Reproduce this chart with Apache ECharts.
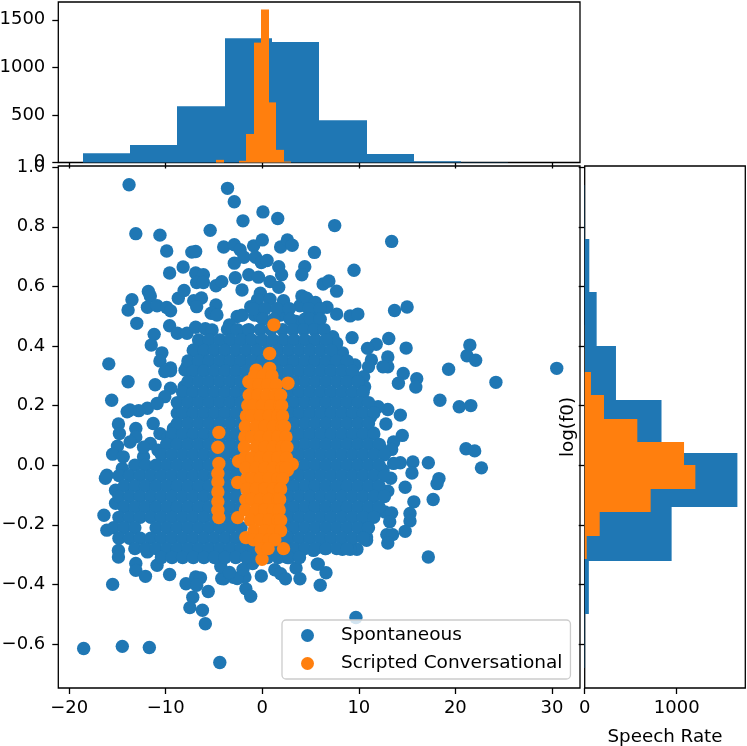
<!DOCTYPE html>
<html>
<head>
<meta charset="utf-8">
<style>
html, body { margin: 0; padding: 0; background: #fff; }
#chart { width: 747px; height: 746px; }
</style>
<script src="https://cdn.jsdelivr.net/npm/echarts@6/dist/echarts.min.js"></script>
</head>
<body>
<div id="chart"></div>
<script>
var xTicks = [-20, -10, 0, 10, 20, 30];
var yTicks = [-0.6, -0.4, -0.2, 0, 0.2, 0.4, 0.6, 0.8, 1.0];
var topCountTicks = [0, 500, 1000, 1500];
var rightCountTicks = [0, 1000];

// histograms
var rateEdgesSpont = [-18.6, -13.7, -8.8, -3.9, 1, 5.9, 10.8, 15.7, 20.6, 25.5, 30.4];
var rateCountsSpont = [97, 184, 590, 1305, 1266, 445, 90, 13, 2, 1];
var rateEdgesScript = [-4.78, -4, -3.22, -2.44, -1.66, -0.88, -0.1, 0.68, 1.46, 2.24, 3.02];
var rateCountsScript = [28, 0, 0, 18, 300, 1260, 1607, 632, 133, 10];
var f0EdgesSpont = [-0.68, -0.5, -0.32, -0.14, 0.04, 0.22, 0.4, 0.58, 0.76, 0.94];
var f0CountsSpont = [4, 45, 945, 1660, 835, 340, 130, 50, 3];
var f0EdgesScript = [-0.315, -0.237, -0.157, -0.079, 0, 0.078, 0.156, 0.234, 0.3125, 0.39, 0.47];
var f0CountsScript = [22, 163, 717, 1203, 1080, 572, 210, 68, 2, 1];

// separate points around the edge of the cloud
var spontOuter = [
  [-13.8,.941],[-3.6,.929],[-2.9,.884],[0.07,.85],[1.6,.828],[-2,.82],[-13.1,.777],[-10.6,.772],[-5.4,.788],[-9.9,.719],
  [-7.3,.715],[-6.9,.717],[-4,.732],[-2.9,.74],[-2.3,.723],[-1.9,.698],[-2.9,.678],[-.9,.736],[0,.756],[-.7,.698],
  [-.1,.68],[.5,.687],[1.9,.732],[2.6,.756],[3.1,.738],[5.4,.714],[7.5,.804],[1.7,.666],[2,.639],[4.4,.666],
  [4.1,.639],[-8.2,.665],[-9.6,.645],[-6.9,.645],[-6.1,.639],[-6.8,.613],[-6.1,.613],[-4.8,.602],[-4.2,.616],[-2.8,.629],
  [-1.4,.639],[-.4,.631],[.8,.616],[-2.1,.588],[1.7,.597],[6.3,.608],[6.9,.618],[7.7,.584],[-11.8,.583],[-11.6,.568],
  [-13.5,.555],[-13.9,.521],[-11.9,.53],[-10.9,.535],[-9.9,.529],[-9.5,.518],[-8.7,.56],[-8.1,.586],[-7.1,.552],[-6.3,.561],
  [-6.8,.532],[-4.8,.538],[-5.3,.51],[-4.7,.504],[-2.6,.499],[-2.1,.503],[-.2,.577],[-.5,.555],[-1.2,.532],[-.8,.504],
  [.8,.557],[2.2,.552],[3.9,.535],[4.1,.568],[4.6,.56],[5.5,.546],[5.7,.51],[6.7,.53],[7.7,.507],[-13,.476],
  [-9.6,.468],[-11.2,.439],[-8.8,.443],[-7.8,.443],[-6.9,.463],[-5.9,.458],[-5.2,.454],[-3.4,.471],[-1.6,.451],[-.2,.499],
  [1.9,.504],[3.5,.482],[5.3,.471],[7.3,.431],[-11.5,.403],[-10.4,.377],[-10.6,.35],[-15.9,.34],[-9.5,.326],[-6.4,.387],
  [-7.8,.33],[-6.4,.347],[13.4,.751],[9.5,.654],[9.1,.501],[9.9,.507],[13.7,.519],[15,.531],[9.3,.428],[13.1,.425],
  [11.8,.406],[10.9,.392],[14.9,.393],[21.5,.403],[21.2,.367],[22.1,.352],[13,.363],[13,.33],[12.5,.33],[11.3,.353],
  [11,.33],[19.3,.322],[30.5,.325],[14.6,.308],[14.1,.275],[16,.29],[15.9,.262],[24.2,.278],[18.4,.218],[20.4,.196],
  [21.6,.2],[14.3,.168],[13,.187],[12,.196],[9.6,.336],[9.1,.303],[10.5,.297],[10.6,.263],[7.2,.353],[8.3,.377],
  [7.7,.409],[12.8,.138],[14.5,.1],[13.6,.078],[13.4,.053],[21.1,.055],[22,.048],[22.7,-.009],[17.2,.008],[15.6,.011],
  [14.3,.008],[13.6,.006],[15.5,-.026],[18.3,-.045],[18.1,-.062],[13.3,-.044],[14.8,-.074],[13,-.087],[15.7,-.123],[17.7,-.115],
  [12.7,-.157],[13.4,-.16],[15.3,-.162],[15.3,-.187],[13.2,-.19],[14.8,-.222],[12.9,-.233],[13.5,-.233],[13,-.261],[10.8,-.241],
  [17.2,-.308],[9.8,-.282],[9.1,-.282],[8.3,-.282],[6.5,-.28],[5.3,-.286],[5.7,-.332],[6.6,-.361],[11.5,.108],[12.2,.06],
  [12.5,-.017],[11.9,-.084],[11.2,-.161],[10.8,-.208],[11.2,.161],[-9.5,.317],[-10.1,.314],[-13.9,.28],[-11.1,.27],[-15.6,.218],
  [-9.5,.258],[-10.1,.23],[-11.9,.191],[-12.8,.183],[-13.7,.185],[-14,.179],[-10.9,.207],[-11.3,.14],[-14.9,.138],[-14.8,.106],
  [-13.1,.123],[-13.1,.095],[-13.7,.078],[-15,.064],[-15.5,.037],[-16.1,-.034],[-14.5,-.011],[-14.4,.028],[-12.3,.028],[-11.6,.073],
  [-10.6,.106],[-9.2,.123],[-8.8,.174],[-8,.319],[-8.1,.263],[-7.1,.387],[-6.1,.403],[-16.25,-.044],[-15.2,-.084],[-15.2,-.128],
  [-16.4,-.168],[-16.1,-.218],[-14.9,-.286],[-14.9,-.308],[-13.1,-.33],[-13.1,-.353],[-12.1,-.373],[-15.5,-.4],[-10.9,-.336],[-9.6,-.367],
  [-11.9,-.291],[-7.9,-.398],[-6.9,-.375],[-6.4,-.378],[-5.6,-.424],[-7.2,-.443],[-7.5,-.478],[-6.2,-.487],[-5.9,-.532],[-6.8,-.403],
  [-18.5,-.615],[-14.5,-.608],[-11.7,-.612],[-4.4,-.662],[9.7,-.511],[-.1,-.372],[1.3,-.351],[1.9,-.364],[2.4,-.381],[3.5,-.345],
  [3.9,-.381],[5.8,-.332],[6,-.403],[-1.7,-.415],[-1.2,-.44],[-1.8,-.375],[2.6,-.31],[3.9,-.291],[10.8,-.252],[-4,-.381],
  [-3,-.376],[-4.2,-.38],[-2.6,-.38],[-4.3,-.34],[-3.4,-.36],[-2,-.35],[-1,-.33],[-12.3,.06],[-10.8,.05],[-9.8,.09]
];

// the solid part of the cloud, one row per line: log(f0), then speech rates
var spontCoreRows = [
  [.525, -.9,.3,1.5,2.8,4.8,6],
  [.49, .1,1.2,2.9,4.4,5,6],
  [.455, -3.6,-2.6,-1.4,-.2,.9,2.1,3.2,4.3,5.4,6.4],
  [.42, -6.6,-5.5,-4.4,-3.3,-2.2,-1.1,0,1.1,2.2,3.3,4.4,5.5,6.6],
  [.385, -7.15,-6.05,-4.95,-3.85,-2.75,-1.65,-.55,.55,1.65,2.75,3.85,4.95,6.05,7.15],
  [.35, -7.7,-6.6,-5.5,-4.4,-3.3,-2.2,-1.1,0,1.1,2.2,3.3,4.4,5.5,6.6,7.7,8.8],
  [.315, -7.15,-6.05,-4.95,-3.85,-2.75,-1.65,-.55,.55,1.65,2.75,3.85,4.95,6.05,7.15,8.25,9.35],
  [.28, -7.7,-6.6,-5.5,-4.4,-3.3,-2.2,-1.1,2.2,3.3,4.4,5.5,6.6,7.7,8.8,9.9],
  [.245, -8.25,-7.15,-6.05,-4.95,-3.85,-2.75,-1.65,1.65,2.75,3.85,4.95,6.05,7.15,8.25,9.35,10.45],
  [.21, -8.8,-7.7,-6.6,-5.5,-4.4,-3.3,-2.2,2.2,3.3,4.4,5.5,6.6,7.7,8.8,9.9,11],
  [.175, -8.25,-7.15,-6.05,-4.95,-3.85,-2.75,-1.65,2.75,3.85,4.95,6.05,7.15,8.25,9.35,10.45,11.55],
  [.14, -8.8,-7.7,-6.6,-5.5,-4.4,-3.3,-2.2,2.2,3.3,4.4,5.5,6.6,7.7,8.8,9.9,11],
  [.105, -9.35,-8.25,-7.15,-6.05,-4.95,-3.85,-2.75,-1.65,2.75,3.85,4.95,6.05,7.15,8.25,9.35,10.45,11.55],
  [.07, -9.9,-8.8,-7.7,-6.6,-5.5,-4.4,-3.3,-2.2,3.3,4.4,5.5,6.6,7.7,8.8,9.9,11,12.1],
  [.035, -10.45,-9.35,-8.25,-7.15,-6.05,-4.95,-3.85,-2.75,2.75,3.85,4.95,6.05,7.15,8.25,9.35,10.45,11.55,12.65],
  [0, -13.2,-12.1,-11,-9.9,-8.8,-7.7,-6.6,-5.5,-4.4,-3.3,-2.2,3.3,4.4,5.5,6.6,7.7,8.8,9.9,11,12.1],
  [-.035, -14.85,-13.75,-12.65,-11.55,-10.45,-9.35,-8.25,-7.15,-6.05,-4.95,-3.85,-2.75,2.75,3.85,4.95,6.05,7.15,8.25,9.35,10.45,11.55,12.65],
  [-.07, -14.3,-13.2,-12.1,-11,-9.9,-8.8,-7.7,-6.6,-5.5,-4.4,-3.3,-2.2,2.2,3.3,4.4,5.5,6.6,7.7,8.8,9.9,11,12.1],
  [-.105, -14.85,-13.75,-12.65,-11.55,-10.45,-9.35,-8.25,-7.15,-6.05,-4.95,-3.85,-2.75,2.75,3.85,4.95,6.05,7.15,8.25,9.35,10.45,11.55,12.65],
  [-.14, -14.3,-13.2,-12.1,-11,-9.9,-8.8,-7.7,-6.6,-5.5,-4.4,-3.3,-2.2,2.2,3.3,4.4,5.5,6.6,7.7,8.8,9.9,11,12.1],
  [-.175, -14.85,-13.75,-12.65,-11.55,-10.45,-9.35,-8.25,-7.15,-6.05,-4.95,-3.85,-2.75,2.75,3.85,4.95,6.05,7.15,8.25,9.35,10.45,11.55],
  [-.21, -15.4,-14.3,-13.2,-11,-9.9,-8.8,-7.7,-6.6,-5.5,-4.4,-3.3,-2.2,2.2,3.3,4.4,5.5,6.6,7.7,8.8,9.9,11],
  [-.245, -14.85,-13.75,-12.65,-11.55,-10.45,-9.35,-8.25,-7.15,-6.05,-4.95,-3.85,-2.75,-1.65,1.65,2.75,3.85,4.95,6.05,7.15,8.25,9.35,10.45],
  [-.28, -13.2,-12.1,-11,-9.9,-8.8,-7.7,-6.6,-5.5,-4.4,-3.3,-2.2,-1.1,0,1.1,2.2,3.3,4.4,5.5,6.6,7.7,8.8],
  [-.31, -10.45,-9.35,-8.25,-7.15,-6.05,-4.95,-3.85,-2.75,-1.65,-.55,.55,1.65,2.75,3.85]
];

var scriptOuter = [
  [1.2,.471],[.76,.375],[-.62,.319],[.76,.325],[2.66,.275],[-1.4,.28],[-4.5,.11],[-4.6,.06],[-4.5,.006],[-4.6,-.028],
  [-4.6,-.056],[-4.6,-.09],[-4.6,-.123],[-4.6,-.151],[-4.5,-.176],[-2.45,.013],[-2.55,-.058],[-2.55,-.176],[-1.7,-.243],[2.2,-.28],
  [-.03,-.316],[3.1,.003],[2.6,-.017]
];

var scriptCoreRows = [
  [.30, -.8,.1,1],
  [.27, -1,-.35,.55,1.45],
  [.235, -1.35,-.45,.45,1.35,1.9],
  [.20, -1.5,-.9,0,.9,1.8,2],
  [.165, -1.65,-1.1,-.2,.7,1.6,2.1],
  [.13, -1.75,-.65,.25,1.15,2.05,2.3],
  [.095, -1.8,-1.1,-.2,.7,1.6,2.45],
  [.06, -1.85,-.65,.25,1.15,2.05,2.55],
  [.025, -1.8,-1.1,-.2,.7,1.6,2.5],
  [-.01, -1.7,-.65,.25,1.15,2.05,2.45],
  [-.045, -1.6,-1.1,-.2,.7,1.6,2.1],
  [-.08, -1.6,-.65,.25,1.15,1.9],
  [-.115, -1.7,-1.1,-.2,.7,1.6,1.8],
  [-.15, -1.75,-.65,.25,1.15,1.75],
  [-.185, -1.2,-.2,.7,1.6,1.9],
  [-.22, -.85,.25,1.15,1.9],
  [-.25, -.9,-.2,.7,1.3],
  [-.28, -.1,.6]
];

function pointsFrom(outer, rows) {
  var pts = outer.slice();
  rows.forEach(function (row) {
    for (var i = 1; i < row.length; i++) pts.push([row[i], row[0]]);
  });
  return pts;
}

function binRows(edges, counts) {
  return counts.map(function (c, i) { return [edges[i], edges[i + 1], c]; });
}

var BLUE = '#1f77b4', ORANGE = '#ff7f0e';
var FONT = 'DejaVu Sans';
var FS = 18;
var X_MIN = -21.13, X_MAX = 32.91, Y_MIN = -0.7477, Y_MAX = 1.004;

// bars standing on the bottom edge (top panel), edges snapped so no seams show
function upBars(api) {
  var a = api.coord([api.value(0), api.value(2)]);
  var b = api.coord([api.value(1), 0]);
  var x0 = Math.round(a[0]), x1 = Math.round(b[0]);
  return { type: 'rect', shape: { x: x0, y: a[1], width: x1 - x0, height: b[1] - a[1] }, style: { fill: api.visual('color') } };
}
// bars growing from the left edge (right panel)
function sideBars(api) {
  var a = api.coord([0, api.value(1)]);
  var b = api.coord([api.value(2), api.value(0)]);
  var y0 = Math.round(a[1]), y1 = Math.round(b[1]);
  return { type: 'rect', shape: { x: a[0], y: y0, width: b[0] - a[0], height: y1 - y0 }, style: { fill: api.visual('color') } };
}

function axisBase(pos, ticks, showLabels, fmt, margin) {
  return {
    type: 'value',
    position: pos,
    splitLine: { show: false },
    axisLine: { show: false, onZero: false },
    axisTick: { show: true, length: 6, customValues: ticks, lineStyle: { color: '#000', width: 1.3 } },
    axisLabel: {
      show: showLabels, customValues: ticks, margin: margin, color: '#000',
      fontFamily: FONT, fontSize: FS, hideOverlap: false, showMinLabel: true, showMaxLabel: true,
      formatter: fmt
    }
  };
}

function minusFmt(v) { return String(v).replace('-', '\u2212'); }
function y1Fmt(v) { return v.toFixed(1).replace('-', '\u2212'); }

// outerBoundsMode none: v6 otherwise shrinks a grid whose labels reach the canvas edge
var gridStyle = { show: true, borderColor: '#000', borderWidth: 1.3, backgroundColor: '#fff', containLabel: false, outerBoundsMode: 'none' };

var myChart = echarts.init(document.getElementById('chart'), null, { renderer: 'canvas' });

var xMain = axisBase('bottom', xTicks, true, minusFmt, 11);
xMain.gridIndex = 0; xMain.min = X_MIN; xMain.max = X_MAX;
var yMain = axisBase('left', yTicks, true, y1Fmt, 13);
yMain.gridIndex = 0; yMain.min = Y_MIN; yMain.max = Y_MAX;
yMain.axisLabel.padding = [5, 0, 0, 0];

var xTop = axisBase('bottom', xTicks, false);
xTop.gridIndex = 1; xTop.min = X_MIN; xTop.max = X_MAX;
var yTop = axisBase('left', topCountTicks, true, minusFmt, 13);
yTop.gridIndex = 1; yTop.min = 0; yTop.max = 1687;
yTop.axisLabel.padding = [5, 0, 0, 0];

var xRight = axisBase('bottom', rightCountTicks, true, minusFmt, 11);
xRight.gridIndex = 2; xRight.min = 0; xRight.max = 1746;
xRight.name = 'Speech Rate'; xRight.nameLocation = 'middle'; xRight.nameGap = 40;
xRight.nameTextStyle = { color: '#000', fontFamily: FONT, fontSize: 18.3 };
var yRight = axisBase('left', yTicks, false);
yRight.gridIndex = 2; yRight.min = Y_MIN; yRight.max = Y_MAX;
yRight.name = 'log(f0)'; yRight.nameLocation = 'middle'; yRight.nameGap = 7;
yRight.nameTextStyle = { color: '#000', fontFamily: FONT, fontSize: 18.3 };

option = {
  animation: false,
  backgroundColor: '#fff',
  textStyle: { fontFamily: FONT },
  grid: [
    Object.assign({ left: 58.3, top: 166, width: 521.7, height: 522 }, gridStyle),
    Object.assign({ left: 58.3, top: 2, width: 521.7, height: 160.5 }, gridStyle),
    Object.assign({ left: 584.7, top: 166, width: 160.6, height: 522 }, gridStyle)
  ],
  xAxis: [xMain, xTop, xRight],
  yAxis: [yMain, yTop, yRight],
  legend: {
    data: ['Spontaneous', 'Scripted Conversational'],
    left: 282, top: 620,
    orient: 'vertical',
    icon: 'circle',
    itemWidth: 35, itemHeight: 13, itemGap: 9,
    padding: [6, 8, 6, 19],
    backgroundColor: 'rgba(255,255,255,0.8)',
    borderColor: '#ccc', borderWidth: 1.3, borderRadius: 4,
    textStyle: { color: '#000', fontFamily: FONT, fontSize: 18.5, padding: [0, 0, 0, 11] }
  },
  series: [
    { name: 'Spontaneous', type: 'scatter', xAxisIndex: 0, yAxisIndex: 0, symbolSize: 13.4, large: false,
      itemStyle: { color: BLUE, opacity: 1 }, data: pointsFrom(spontOuter, spontCoreRows), z: 2 },
    { name: 'Scripted Conversational', type: 'scatter', xAxisIndex: 0, yAxisIndex: 0, symbolSize: 13.4, large: false,
      itemStyle: { color: ORANGE, opacity: 1 }, data: pointsFrom(scriptOuter, scriptCoreRows), z: 3 },
    { type: 'custom', xAxisIndex: 1, yAxisIndex: 1, renderItem: function (p, api) { return upBars(api); },
      itemStyle: { color: BLUE }, data: binRows(rateEdgesSpont, rateCountsSpont), z: 2 },
    { type: 'custom', xAxisIndex: 1, yAxisIndex: 1, renderItem: function (p, api) { return upBars(api); },
      itemStyle: { color: ORANGE }, data: binRows(rateEdgesScript, rateCountsScript), z: 3 },
    { type: 'custom', xAxisIndex: 2, yAxisIndex: 2, renderItem: function (p, api) { return sideBars(api); },
      itemStyle: { color: BLUE }, data: binRows(f0EdgesSpont, f0CountsSpont), z: 2 },
    { type: 'custom', xAxisIndex: 2, yAxisIndex: 2, renderItem: function (p, api) { return sideBars(api); },
      itemStyle: { color: ORANGE }, data: binRows(f0EdgesScript, f0CountsScript), z: 3 }
  ]
};

myChart.setOption(option);
</script>
</body>
</html>
